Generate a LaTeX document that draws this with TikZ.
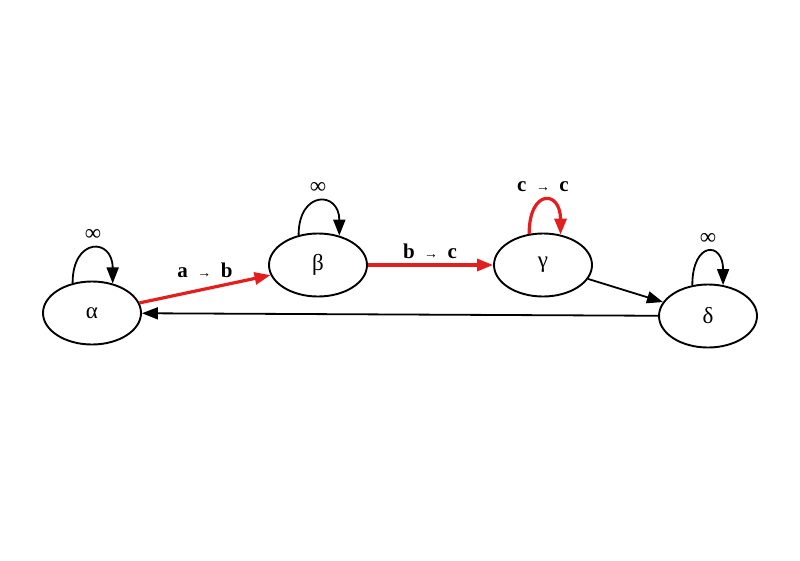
\documentclass[tikz,border=0pt]{standalone}
\usepackage{fontspec}
\setmainfont{Liberation Serif}
\usetikzlibrary{arrows.meta,shapes.geometric}
\definecolor{edgered}{RGB}{228,30,30}
\begin{document}
\begin{tikzpicture}[x=1pt,y=-1pt,
  st/.style={draw,ellipse,line width=1.9pt,minimum width=98pt,minimum height=63pt,inner sep=0pt,font=\fontsize{23}{24}\selectfont},
  blk/.style={line width=1.8pt,-{Triangle[length=16pt,width=12pt]}},
  rededge/.style={draw=edgered,line width=3.2pt,-{Triangle[length=16pt,width=12pt,fill=edgered]}},
  lbl/.style={font=\fontsize{21}{22}\selectfont\bfseries,inner sep=0pt},
  inflbl/.style={font=\fontsize{23}{24}\selectfont,inner sep=0pt}]
\useasboundingbox (0,0) rectangle (800,560);
\fill[white] (0,0) rectangle (800,560);
\newcommand{\arr}{\hspace{0.45em}{\fontsize{14}{14}\selectfont →}\hspace{0.45em}}
\node[st] (a) at (92,313) {α};
\node[st] (b) at (318,265) {β};
\node[st] (g) at (543,265) {γ};
\node[st] (d) at (708,316) {δ};
% loops
\draw[blk] (a.123) .. controls +(0,-46) and +(0,-46) .. (a.55);
\draw[blk] (b.123) .. controls +(0,-45) and +(0,-45) .. (b.54);
\draw[rededge] (g.114) .. controls +(0,-45) and +(0,-45) .. (g.60);
\draw[blk] (d.117) .. controls +(0,-44) and +(0,-44) .. (d.64);
% edges
\draw[rededge] (a) -- (b);
\draw[rededge] (b) -- (g);
\draw[blk] (g) -- (d);
\draw[blk] (d) -- (a);
% labels
\node[inflbl] (la) at (93,235) {∞};
\node[inflbl] (lb) at (318,188) {∞};
\node[inflbl] (ld) at (708,239) {∞};
\node[lbl] (lab) at (205,270) {a\arr b};
\node[lbl] (lbc) at (430,251) {b\arr c};
\node[lbl] (lcc) at (543,187) {c\arr c};
\end{tikzpicture}
\end{document}
